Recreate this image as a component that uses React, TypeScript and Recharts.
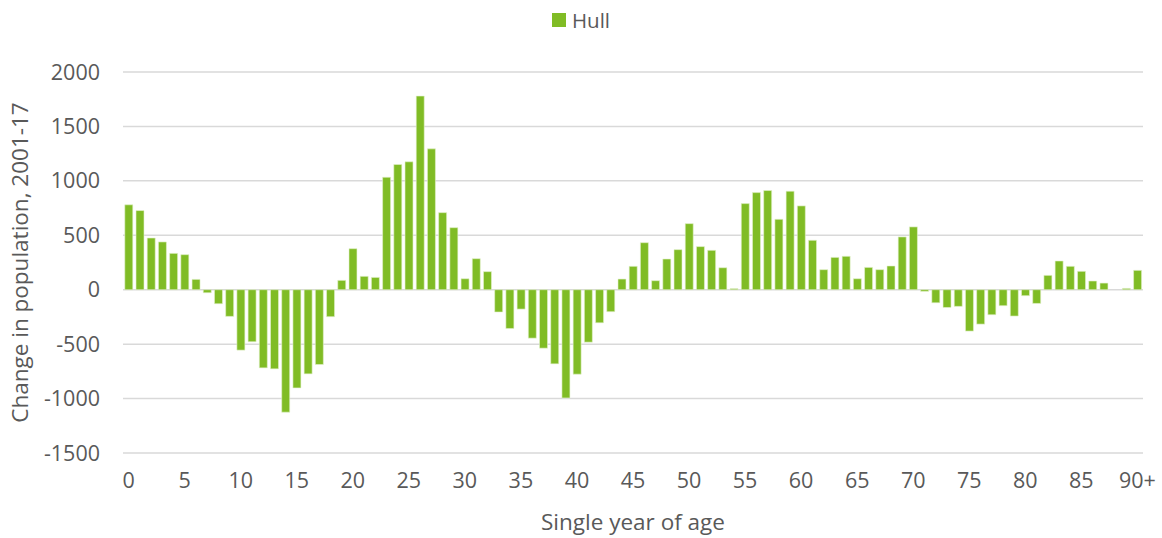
import React from 'react';
import { BarChart, Bar, XAxis, YAxis, CartesianGrid, Legend, Label } from 'recharts';

const AGES = [
  '0', '1', '2', '3', '4', '5', '6', '7', '8', '9',
  '10', '11', '12', '13', '14', '15', '16', '17', '18', '19',
  '20', '21', '22', '23', '24', '25', '26', '27', '28', '29',
  '30', '31', '32', '33', '34', '35', '36', '37', '38', '39',
  '40', '41', '42', '43', '44', '45', '46', '47', '48', '49',
  '50', '51', '52', '53', '54', '55', '56', '57', '58', '59',
  '60', '61', '62', '63', '64', '65', '66', '67', '68', '69',
  '70', '71', '72', '73', '74', '75', '76', '77', '78', '79',
  '80', '81', '82', '83', '84', '85', '86', '87', '88', '89', '90+'
];

// change in population 2001-17, by single year of age
const HULL = [
  780, 727, 475, 439, 334, 322, 95, -28, -129, -245,
  -555, -478, -718, -727, -1125, -902, -773, -687, -248, 86,
  377, 123, 113, 1033, 1150, 1175, 1779, 1294, 708, 570,
  101, 285, 166, -205, -356, -178, -445, -537, -681, -994,
  -776, -482, -304, -202, 98, 215, 432, 83, 282, 368,
  607, 396, 362, 202, 10, 791, 892, 911, 647, 905,
  770, 454, 184, 297, 307, 101, 205, 184, 218, 485,
  577, -15, -120, -163, -153, -380, -316, -230, -147, -242,
  -55, -126, 132, 264, 215, 169, 80, 61, 0, 12, 178
];

const Y_TICKS = [-1500, -1000, -500, 0, 500, 1000, 1500, 2000];

const data = AGES.map((age, i) => ({ age, Hull: HULL[i] }));

const FONT = '"Open Sans", sans-serif';
const TEXT = '#595959';
const GREEN = '#80bc25';

// simple centred legend, one entry
const HullLegend = () => (
  <div
    style={{
      width: 1162,
      height: 24,
      display: 'flex',
      justifyContent: 'center',
      alignItems: 'center',
      fontFamily: FONT,
      fontSize: 20.5,
      color: TEXT,
    }}
  >
    <span style={{ display: 'inline-block', width: 14, height: 14, background: GREEN, marginRight: 6 }} />
    <span>Hull</span>
  </div>
);

const App: React.FC = () => {
  return (
    <div style={{ position: 'absolute', left: 0, top: 0, background: '#fff' }}>
      <BarChart
        width={1162}
        height={538}
        data={data}
        margin={{ top: 48, right: 19, left: 0, bottom: 0 }}
        barCategoryGap="16%"
        style={{ fontFamily: FONT }}
      >
        <CartesianGrid vertical={false} stroke="#d9d9d9" strokeWidth={1.5} />
        <XAxis
          dataKey="age"
          interval={4}
          axisLine={false}
          tickLine={false}
          height={85}
          tick={{ fill: TEXT, fontSize: 21.5, fontFamily: FONT }}
          tickMargin={14}
        >
          <Label
            value="Single year of age"
            position="insideBottom"
            offset={8}
            style={{ fill: TEXT, fontSize: 22.5, fontFamily: FONT }}
          />
        </XAxis>
        <YAxis
          domain={[-1500, 2000]}
          ticks={Y_TICKS}
          axisLine={false}
          tickLine={false}
          width={123}
          tick={{ fill: TEXT, fontSize: 21.5, fontFamily: FONT }}
          tickMargin={17}
        >
          <Label
            value="Change in population, 2001-17"
            angle={-90}
            position="insideLeft"
            offset={20}
            style={{ fill: TEXT, fontSize: 22.5, fontFamily: FONT, textAnchor: 'middle' }}
          />
        </YAxis>
        <Legend
          verticalAlign="top"
          content={<HullLegend />}
          wrapperStyle={{ top: 8, left: 0, width: 1162 }}
        />
        <Bar
          dataKey="Hull"
          fill={GREEN}
          stroke="#e4f1cf"
          strokeWidth={0.6}
          isAnimationActive={false}
        />
      </BarChart>
    </div>
  );
};

export default App;
